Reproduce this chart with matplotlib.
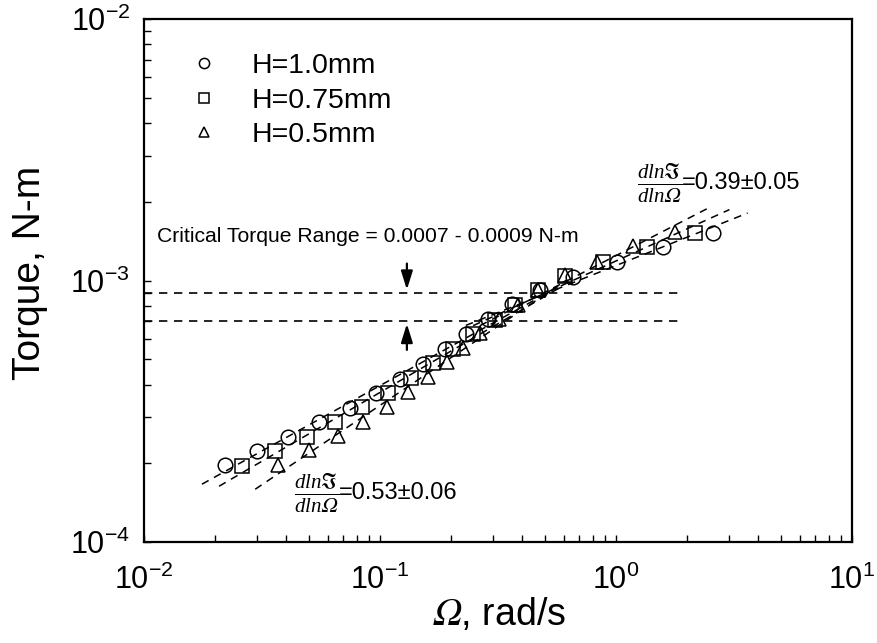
import matplotlib
matplotlib.use("Agg")
import matplotlib.pyplot as plt
import numpy as np

plt.rcParams['font.family'] = ['Liberation Sans', 'DejaVu Sans']
plt.rcParams['mathtext.fontset'] = 'custom'
plt.rcParams['mathtext.rm'] = 'Liberation Sans'
plt.rcParams['mathtext.it'] = 'Liberation Serif:italic'
plt.rcParams['mathtext.bf'] = 'Liberation Sans:bold'
plt.rcParams['mathtext.fallback'] = 'stix'

# omega (rad/s) and torque (N-m)
w_10 = [0.0220, 0.0301, 0.0407, 0.0552, 0.0747, 0.0962, 0.1217, 0.152, 0.188,
        0.231, 0.287, 0.362, 0.476, 0.658, 1.01, 1.58, 2.58]
t_10 = [1.97e-4, 2.23e-4, 2.52e-4, 2.88e-4, 3.25e-4, 3.72e-4, 4.20e-4, 4.80e-4,
        5.47e-4, 6.24e-4, 7.13e-4, 8.13e-4, 9.20e-4, 1.03e-3, 1.18e-3, 1.34e-3,
        1.52e-3]

w_075 = [0.0260, 0.0359, 0.0491, 0.0644, 0.0839, 0.108, 0.135, 0.168, 0.204,
         0.248, 0.307, 0.373, 0.467, 0.608, 0.881, 1.35, 2.16]
t_075 = [1.95e-4, 2.23e-4, 2.52e-4, 2.88e-4, 3.28e-4, 3.72e-4, 4.24e-4, 4.84e-4,
         5.47e-4, 6.24e-4, 7.06e-4, 8.05e-4, 9.20e-4, 1.04e-3, 1.18e-3, 1.34e-3,
         1.52e-3]

w_05 = [0.0370, 0.0500, 0.0664, 0.0847, 0.107, 0.132, 0.160, 0.192, 0.225,
        0.265, 0.319, 0.385, 0.467, 0.608, 0.830, 1.18, 1.78]
t_05 = [1.97e-4, 2.25e-4, 2.54e-4, 2.88e-4, 3.28e-4, 3.75e-4, 4.28e-4, 4.88e-4,
        5.52e-4, 6.30e-4, 7.13e-4, 8.05e-4, 9.20e-4, 1.05e-3, 1.18e-3, 1.35e-3,
        1.53e-3]

labels = ['H=1.0mm', 'H=0.75mm', 'H=0.5mm']
markers = ['o', 's', '^']

crit_lo = 0.0007
crit_hi = 0.0009
split = 11  # first point of the upper (high-rate) regime

fig = plt.figure(figsize=(8.78, 6.43), dpi=100)
ax = fig.add_axes([0.164, 0.157, 0.8064, 0.8134])

series = [(w_10, t_10), (w_075, t_075), (w_05, t_05)]
for (w, t), lab, m in zip(series, labels, markers):
    ax.plot(w, t, linestyle='none', marker=m, markersize=10.5 if m != 's' else 9.5,
            markerfacecolor='none', markeredgecolor='black',
            markeredgewidth=1.1, label=lab)

# power-law fits, low and high regime
for w, t in series:
    w = np.array(w)
    t = np.array(t)
    b, a = np.polyfit(np.log(w[:split]), np.log(t[:split]), 1)
    xs = np.array([w[0] * 0.8, w[split] * 1.6])
    ax.plot(xs, np.exp(a) * xs ** b, '--', color='black', lw=1.1, dashes=(5, 4))
    b, a = np.polyfit(np.log(w[split - 2:]), np.log(t[split - 2:]), 1)
    xs = np.array([w[split - 2], w[-1] * 1.4])
    ax.plot(xs, np.exp(a) * xs ** b, '--', color='black', lw=1.1, dashes=(5, 4))

ax.plot([0.01, 1.83], [crit_hi, crit_hi], color='black', lw=1.2, dashes=(5, 4))
ax.plot([0.01, 1.83], [crit_lo, crit_lo], color='black', lw=1.2, dashes=(5, 4))

arrow = dict(arrowstyle='-|>,head_length=0.8,head_width=0.25', color='black',
             lw=1.6, mutation_scale=14)
ax.annotate('', xy=(0.13, crit_hi), xytext=(0.13, 1.19e-3), arrowprops=arrow)
ax.annotate('', xy=(0.13, crit_lo), xytext=(0.13, 5.3e-4), arrowprops=arrow)

ax.text(0.01135, 1.47e-3, 'Critical Torque Range = 0.0007 - 0.0009 N-m',
        fontsize=15.2, va='center', ha='left')

frac = r'$\frac{dln\Im}{dln𝛺}$'
ax.text(1.53, 2.36e-3, frac, fontsize=21.5, ha='center', va='center')
ax.text(1.905, 2.36e-3, '=0.39±0.05', fontsize=17, ha='left', va='center')
ax.text(0.0541, 1.54e-4, frac, fontsize=21.5, ha='center', va='center')
ax.text(0.0670, 1.54e-4, '=0.53±0.06', fontsize=17, ha='left', va='center')

ax.set_xscale('log')
ax.set_yscale('log')
ax.set_xlim(1e-2, 1e1)
ax.set_ylim(1e-4, 1e-2)

ax.set_xlabel(r'$𝛺$, rad/s', fontsize=27, labelpad=0)
ax.set_ylabel('Torque, N-m', fontsize=28)
ax.yaxis.set_label_coords(-0.135, 0.515)

ax.tick_params(which='both', direction='in', length=5, width=1,
               top=False, right=False, labelsize=22, pad=10)
ax.tick_params(axis='x', pad=16)
for s in ax.spines.values():
    s.set_linewidth(1.6)

ax.legend(loc='upper left', bbox_to_anchor=(0.008, 0.984), frameon=False,
          fontsize=20.5, markerscale=0.7, handletextpad=0.68, labelspacing=0.3)

fig.savefig('out.png', dpi=100)
